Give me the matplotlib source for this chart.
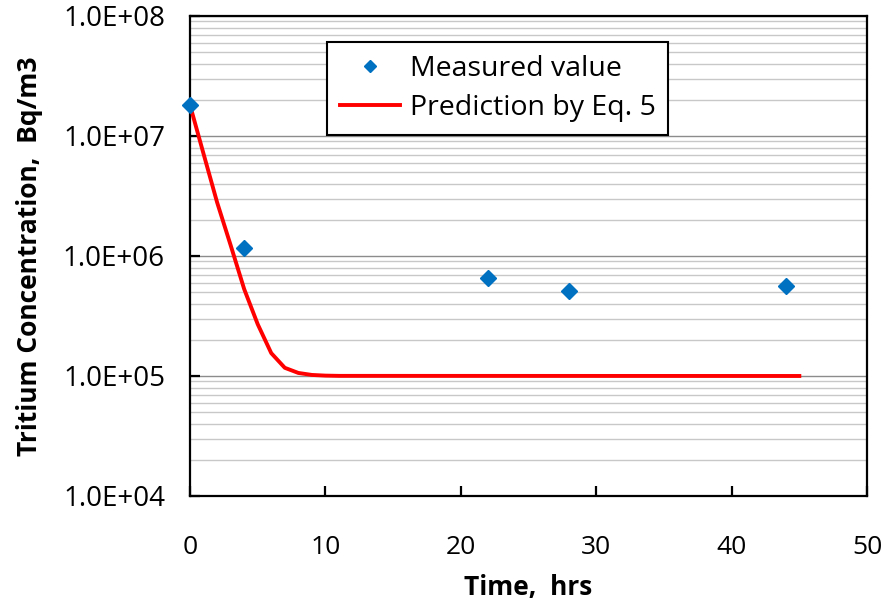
import matplotlib
matplotlib.use("Agg")
import matplotlib.pyplot as plt
from matplotlib.ticker import FixedLocator, LogLocator, NullFormatter

plt.rcParams['font.family'] = ['Open Sans', 'DejaVu Sans']

# Measured tritium concentrations
t_meas = [0, 4, 22, 28, 44]
c_meas = [1.81e7, 1.17e6, 6.6e5, 5.1e5, 5.6e5]

# Prediction by Eq. 5
t_pred = [0, 1, 2, 3, 4, 5, 6, 7, 8, 9, 10, 11, 45]
c_pred = [1.81e7, 7.1e6, 2.8e6, 1.23e6, 5.3e5, 2.7e5, 1.55e5, 1.17e5,
          1.06e5, 1.02e5, 1.007e5, 1.002e5, 1.0e5]

y_ticks = [1e4, 1e5, 1e6, 1e7, 1e8]
y_labels = ['1.0E+04', '1.0E+05', '1.0E+06', '1.0E+07', '1.0E+08']
x_ticks = [0, 10, 20, 30, 40, 50]

fig = plt.figure(figsize=(8.85, 6.05), dpi=100)
ax = fig.add_axes([0.2147, 0.1802, 0.7650, 0.7934])

ax.plot(t_pred, c_pred, color='#ff0000', lw=2.8, label='Prediction by Eq. 5',
        zorder=3, solid_joinstyle='round')
ax.plot(t_meas, c_meas, linestyle='none', marker='D', ms=8, color='#0070c0',
        label='Measured value', zorder=4, clip_on=False)

ax.set_yscale('log')
ax.set_xlim(0, 50)
ax.set_ylim(1e4, 1e8)
ax.set_yticks(y_ticks)
ax.set_yticklabels(y_labels)
ax.yaxis.set_minor_locator(LogLocator(base=10, subs=range(2, 10)))
ax.yaxis.set_minor_formatter(NullFormatter())
ax.xaxis.set_major_locator(FixedLocator(x_ticks))

# horizontal grid only
ax.grid(True, axis='y', which='minor', color='#c8c8c8', lw=1.0)
ax.grid(True, axis='y', which='major', color='#8c8c8c', lw=1.0)
ax.set_axisbelow(True)

for s in ax.spines.values():
    s.set_linewidth(1.6)
    s.set_color('black')

ax.tick_params(axis='both', which='major', direction='in', length=7, width=1.6,
               labelsize=19)
ax.tick_params(axis='y', which='minor', left=False)
ax.tick_params(axis='y', labelsize=20, pad=18)
ax.tick_params(axis='x', pad=28)

ax.set_xlabel('Time,  hrs', fontsize=19, fontweight='bold', labelpad=10)
ax.set_ylabel('Tritium Concentration,  Bq/m3', fontsize=19, fontweight='bold',
              labelpad=14)

handles, labels = ax.get_legend_handles_labels()
leg = ax.legend(handles[::-1], labels[::-1], loc='upper left',
                bbox_to_anchor=(0.2024, 0.946), fontsize=20.5, frameon=True,
                fancybox=False, framealpha=1, edgecolor='black',
                borderpad=0.45, handlelength=2.1, handletextpad=0.35,
                labelspacing=0.4, markerscale=0.75, borderaxespad=0)
leg.get_frame().set_linewidth(1.5)

fig.savefig('out.png', dpi=100)
